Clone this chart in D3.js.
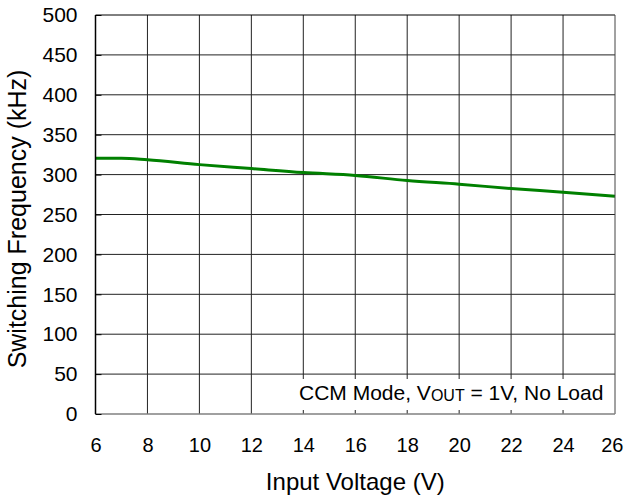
<!DOCTYPE html>
<html>
<head>
<meta charset="utf-8">
<script src="https://cdn.jsdelivr.net/npm/d3@7"></script>
<style>
  body { margin: 0; background: #fff; }
  svg { display: block; }
  text { font-family: "Liberation Sans", Arial, sans-serif; fill: #000; }
</style>
</head>
<body>
<svg id="svg" width="625" height="495"></svg>
<script>
const $svg = d3.select('#svg')

// data
const vin = [6, 7, 8, 10, 12, 14, 16, 18, 20, 22, 24, 26]
const fsw = [320.5, 320.5, 318.5, 312.5, 307.5, 302.5, 299, 292.5, 288, 282.5, 278, 273]
const xTicks = [6, 8, 10, 12, 14, 16, 18, 20, 22, 24, 26]
const yTicks = [0, 50, 100, 150, 200, 250, 300, 350, 400, 450, 500]

const plotL = 95.5, plotR = 615, plotT = 15, plotB = 414

const x = d3.scaleLinear().domain([6, 26]).range([plotL, plotR])
const y = d3.scaleLinear().domain([0, 500]).range([plotB, plotT])

// grid
$svg.append('g')
  .selectAll('line')
  .data(xTicks.slice(1, -1))
  .join('line')
  .attr('x1', d => x(d)).attr('x2', d => x(d))
  .attr('y1', plotT).attr('y2', plotB)
  .attr('stroke', '#222').attr('stroke-width', 1)

$svg.append('g')
  .selectAll('line')
  .data(yTicks.slice(1, -1))
  .join('line')
  .attr('x1', plotL).attr('x2', plotR)
  .attr('y1', d => y(d)).attr('y2', d => y(d))
  .attr('stroke', '#222').attr('stroke-width', 1)

// the curve
$svg.append('path')
  .datum(vin.map((v, i) => ({ x: v, y: fsw[i] })))
  .attr('fill', 'none')
  .attr('stroke', '#008000')
  .attr('stroke-width', 3)
  .attr('d', d3.line().x(d => x(d.x)).y(d => y(d.y)).curve(d3.curveMonotoneX))

// note box hides the grid behind it
$svg.append('rect')
  .attr('x', 297).attr('y', 379)
  .attr('width', plotR - 297 - 1).attr('height', 31)
  .attr('fill', '#fff')

const note = $svg.append('text')
  .attr('x', 299).attr('y', 399.5)
  .attr('font-size', 21)
note.append('tspan').text('CCM Mode, V')
note.append('tspan').attr('font-size', 16).attr('dy', 1).text('OUT')
note.append('tspan').attr('dy', -1).text(' = 1V, No Load')

// frame
$svg.append('line').attr('x1', plotL).attr('x2', plotR).attr('y1', plotT).attr('y2', plotT).attr('stroke', '#000')
$svg.append('line').attr('x1', plotR).attr('x2', plotR).attr('y1', plotT).attr('y2', plotB).attr('stroke', '#444')
$svg.append('line').attr('x1', plotL).attr('x2', plotR).attr('y1', plotB).attr('y2', plotB).attr('stroke', '#808080').attr('stroke-width', 1.5)
$svg.append('line').attr('x1', plotL).attr('x2', plotL).attr('y1', plotT).attr('y2', plotB).attr('stroke', '#000').attr('stroke-width', 1.5)

// axes
const yAxis = $svg.append('g')
  .attr('transform', `translate(${plotL},0)`)
  .call(d3.axisLeft(y).tickValues(yTicks).tickSize(-6).tickPadding(18))
yAxis.select('.domain').remove()
yAxis.selectAll('text').attr('font-size', 21).attr('fill', '#000').attr('x', -18)
yAxis.selectAll('line').attr('stroke', '#000')

const xAxis = $svg.append('g')
  .attr('transform', `translate(0,${plotB})`)
  .call(d3.axisBottom(x).tickValues(xTicks).tickSize(0))
xAxis.select('.domain').remove()
xAxis.selectAll('text').attr('font-size', 20).attr('fill', '#000')
  .attr('dy', null).attr('y', 37.5)
// last label sits at the page edge, keep it inside
xAxis.selectAll('text').filter(d => d === 26)
  .attr('text-anchor', 'end').attr('x', 8)

// axis titles
$svg.append('text')
  .attr('x', (plotL + plotR) / 2).attr('y', 490)
  .attr('text-anchor', 'middle')
  .attr('font-size', 24)
  .text('Input Voltage (V)')

$svg.append('text')
  .attr('transform', `translate(25.5,219) rotate(-90)`)
  .attr('text-anchor', 'middle')
  .attr('font-size', 25)
  .text('Switching Frequency (kHz)')
</script>
</body>
</html>
